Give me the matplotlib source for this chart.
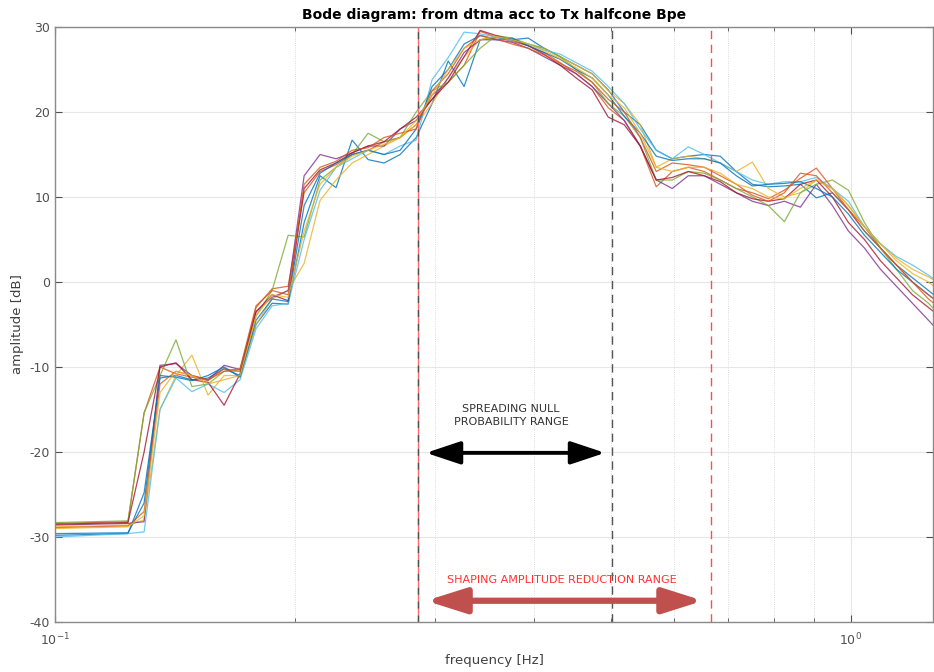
import numpy as np
import matplotlib
matplotlib.use("Agg")
import matplotlib.pyplot as plt
import matplotlib.ticker as mticker

plt.rcParams["axes.unicode_minus"] = False

# frequency points [Hz]
freq = [0.1, 0.1235, 0.1294, 0.1355, 0.1419, 0.1486, 0.1557, 0.1631, 0.1708, 0.1789,
        0.1874, 0.1963, 0.2056, 0.2153, 0.2255, 0.2362, 0.2474, 0.2591, 0.2714, 0.2843,
        0.2977, 0.3119, 0.3266, 0.3421, 0.3583, 0.3753, 0.3931, 0.4117, 0.4313, 0.4517,
        0.4731, 0.4956, 0.5191, 0.5437, 0.5694, 0.5964, 0.6247, 0.6543, 0.6853, 0.7178,
        0.7519, 0.7875, 0.8248, 0.8640, 0.9049, 0.9478, 0.9928, 1.0399, 1.0892, 1.1408,
        1.1949, 1.2516, 1.3109]

# amplitude [dB] for each run
amp_1 = [-29.8, -29.6, -24.8, -11.3, -11.0, -11.5, -11.3, -10.2, -11.0, -5.0, -2.5, -2.6, 7.0, 12.5, 11.1, 16.7, 14.4, 14.0, 15.0, 17.0,
         21.0, 26.0, 23.0, 28.5, 28.8, 28.5, 28.7, 27.5, 26.5, 25.5, 24.5, 22.6, 20.0, 18.5, 15.5, 14.5, 14.8, 15.0, 14.8, 13.0,
         11.5, 11.2, 11.3, 11.5, 9.9, 10.5, 8.5, 6.0, 4.0, 2.0, 0.5, -1.0, -2.5]
amp_2 = [-28.4, -28.2, -15.4, -10.0, -10.8, -11.2, -11.6, -10.2, -10.5, -3.0, -0.8, -0.5, 10.5, 13.0, 13.8, 15.0, 15.5, 16.5, 17.0, 18.5,
         22.0, 23.5, 25.5, 29.5, 28.8, 28.3, 27.8, 27.0, 25.8, 24.5, 23.0, 20.5, 19.0, 16.0, 11.2, 13.0, 13.5, 13.0, 12.0, 11.0,
         10.5, 9.8, 10.8, 12.2, 13.4, 11.0, 8.5, 6.5, 4.0, 2.0, 0.0, -2.0, -3.5]
amp_3 = [-28.8, -28.6, -28.0, -15.0, -11.0, -8.6, -13.3, -11.0, -11.0, -5.0, -2.0, -1.0, 2.2, 9.6, 12.0, 14.0, 15.0, 16.0, 17.0, 18.5,
         21.0, 24.0, 26.5, 28.5, 28.8, 28.5, 28.0, 27.5, 26.5, 25.5, 24.5, 22.5, 21.0, 18.5, 13.5, 14.5, 14.8, 14.5, 14.0, 13.0,
         14.1, 11.0, 10.0, 10.5, 12.0, 11.0, 9.0, 6.5, 4.5, 2.8, 1.5, 0.6, -0.5]
amp_4 = [-28.6, -28.4, -28.2, -9.8, -9.6, -11.0, -11.5, -9.8, -10.3, -3.5, -1.8, -1.0, 12.5, 15.0, 14.5, 15.2, 16.0, 16.0, 18.0, 19.0,
         21.5, 24.0, 27.0, 28.5, 28.5, 28.2, 27.5, 26.5, 25.5, 24.5, 23.0, 21.0, 19.0, 16.0, 12.0, 11.0, 12.5, 12.5, 11.5, 10.5,
         9.5, 9.0, 9.5, 8.8, 11.5, 9.0, 6.0, 4.0, 1.5, -0.5, -2.5, -4.5, -6.5]
amp_5 = [-28.3, -28.1, -15.4, -11.0, -6.8, -12.3, -12.0, -10.5, -10.5, -4.0, -1.0, 5.5, 5.3, 12.0, 13.5, 15.0, 17.5, 16.5, 17.0, 20.0,
         22.5, 23.5, 25.5, 27.5, 29.0, 28.7, 28.0, 27.5, 26.5, 25.0, 23.5, 21.0, 19.5, 17.0, 12.0, 12.0, 13.0, 12.8, 12.0, 11.0,
         10.0, 9.0, 7.1, 10.5, 11.5, 12.0, 10.8, 7.0, 4.0, 1.5, -1.0, -2.5, -4.5]
amp_6 = [-30.0, -29.6, -29.4, -15.0, -11.3, -12.9, -12.0, -13.0, -11.5, -5.5, -2.8, -2.5, 5.0, 10.8, 13.5, 14.5, 15.5, 15.0, 16.0, 16.7,
         23.8, 26.4, 29.4, 29.2, 28.8, 28.4, 28.0, 27.3, 26.8, 25.8, 24.8, 23.0, 21.0, 18.0, 15.5, 14.5, 15.9, 15.0, 14.0, 13.0,
         12.0, 11.5, 11.8, 11.8, 12.3, 11.0, 9.5, 6.5, 4.5, 3.0, 2.0, 0.8, -0.5]
amp_7 = [-28.5, -28.3, -20.0, -10.0, -9.5, -11.5, -11.8, -14.5, -10.8, -3.5, -1.5, -2.2, 11.0, 13.2, 14.0, 15.2, 16.0, 16.5, 18.0, 19.4,
         21.5, 23.5, 26.5, 29.6, 29.0, 28.5, 27.8, 26.8, 25.5, 24.0, 22.6, 19.4, 18.5, 16.0, 12.0, 12.3, 13.0, 12.5, 11.8, 10.5,
         9.8, 9.5, 9.8, 11.5, 12.0, 10.0, 7.0, 5.0, 2.5, 0.5, -1.5, -3.0, -4.5]
amp_8 = [-29.6, -29.5, -26.0, -11.0, -11.2, -11.6, -11.0, -10.0, -11.2, -4.5, -2.0, -2.3, 9.0, 12.8, 14.0, 15.0, 15.5, 15.0, 15.5, 18.0,
         23.0, 25.0, 28.0, 29.0, 28.5, 28.7, 27.8, 27.0, 26.2, 25.0, 24.0, 22.0, 19.5, 17.5, 14.8, 14.3, 14.5, 14.5, 14.0, 12.5,
         11.3, 11.5, 11.6, 11.8, 11.0, 10.0, 8.0, 5.5, 3.5, 1.5, 0.0, -1.5, -3.0]
amp_9 = [-28.9, -28.7, -27.0, -12.0, -10.5, -11.0, -11.5, -10.5, -10.2, -2.8, -1.0, -1.5, 11.5, 13.5, 14.2, 15.5, 15.8, 17.0, 17.5, 18.0,
         22.5, 24.5, 27.5, 29.0, 28.6, 28.0, 27.5, 26.7, 25.7, 24.8, 23.5, 21.5, 20.0, 17.0, 13.0, 14.0, 13.8, 13.5, 12.5, 11.5,
         10.2, 9.5, 10.5, 12.8, 12.5, 10.5, 8.5, 6.0, 4.0, 2.0, 0.0, -1.5, -3.0]
amp_10 = [-29.0, -28.8, -27.5, -13.0, -10.5, -11.0, -12.0, -11.5, -11.0, -4.0, -1.5, -1.8, 6.0, 11.5, 13.5, 14.8, 15.5, 16.2, 17.0, 19.0,
          22.0, 25.0, 27.5, 28.5, 28.9, 28.5, 28.0, 27.2, 26.3, 25.2, 24.0, 22.0, 20.5, 17.5, 13.5, 13.0, 13.5, 13.5, 12.8, 11.5,
          11.0, 10.0, 9.8, 11.0, 12.0, 11.0, 9.0, 6.5, 4.5, 2.5, 1.0, 0.0, -1.5]

runs = [amp_1, amp_2, amp_3, amp_4, amp_5, amp_6, amp_7, amp_8, amp_9, amp_10]

# matlab default line colours
kleur = ["#0072BD", "#D95319", "#EDB120", "#7E2F8E", "#77AC30", "#4DBEEE", "#A2142F"]

f_lo = 0.286   # start shaping range
f_null = 0.501  # spreading null
f_hi = 0.667   # end shaping range

fig = plt.figure(figsize=(9.34, 6.72), dpi=100)
ax = fig.add_axes([0.0589, 0.0744, 0.9400, 0.8854])

for i, a in enumerate(runs):
    ax.plot(freq, a, color=kleur[i % len(kleur)], lw=0.9, alpha=0.8)

ax.set_xscale("log")
ax.set_xlim(0.1, 1.268)
ax.set_ylim(-40, 30)
ax.set_yticks(np.arange(-40, 31, 10))
ax.xaxis.set_major_locator(mticker.LogLocator(base=10))
ax.xaxis.set_minor_locator(mticker.LogLocator(base=10, subs=np.arange(2, 10)))
ax.xaxis.set_minor_formatter(mticker.NullFormatter())

ax.grid(True, which="major", axis="y", color="#e6e6e6", lw=0.8)
ax.grid(True, which="major", axis="x", color="#e6e6e6", lw=0.8)
ax.grid(True, which="minor", axis="x", color="#d0d0d0", lw=0.6, ls=":")
ax.set_axisbelow(True)

ax.tick_params(which="both", direction="in", top=True, right=True, colors="#505050", labelsize=9)
ax.tick_params(which="major", length=5)
ax.tick_params(which="minor", length=3)
ax.tick_params(axis="x", pad=7)
for s in ax.spines.values():
    s.set_color("#8a8a8a")
    s.set_linewidth(1.0)

# range markers
ax.axvline(f_lo, color="#ff6b6b", lw=1.0)
ax.axvline(f_lo, color="#505050", lw=1.0, ls=(0, (5, 5)))
ax.axvline(f_null, color="#555555", lw=1.0, ls=(0, (6, 4)))
ax.axvline(f_hi, color="#ff4d4d", lw=1.0, ls=(0, (6, 4)))

ax.annotate("", xy=(0.2925, -20.1), xytext=(0.491, -20.1),
            arrowprops=dict(arrowstyle="<|-|>,head_length=1.05,head_width=0.35",
                            mutation_scale=20, color="black", lw=2.8,
                            shrinkA=0, shrinkB=0))
ax.text(0.374, -15.7, "SPREADING NULL\nPROBABILITY RANGE", ha="center", va="center",
        fontsize=8, color="#333333", linespacing=1.4)

ax.annotate("", xy=(0.2925, -37.5), xytext=(0.652, -37.5),
            arrowprops=dict(arrowstyle="<|-|>,head_length=1.2,head_width=0.38",
                            mutation_scale=20, color="#C0504D", lw=4.5,
                            shrinkA=0, shrinkB=0))
ax.text(0.4335, -35.1, "SHAPING AMPLITUDE REDUCTION RANGE", ha="center", va="center",
        fontsize=8, color="#ff3030")

ax.set_title("Bode diagram: from dtma acc to Tx halfcone Bpe", fontsize=10,
             fontweight="bold", pad=6)
ax.set_xlabel("frequency [Hz]", fontsize=9.5, color="#404040", labelpad=4)
ax.set_ylabel("amplitude [dB]", fontsize=9.5, color="#404040", labelpad=4)

plt.savefig("out.png", dpi=100)
